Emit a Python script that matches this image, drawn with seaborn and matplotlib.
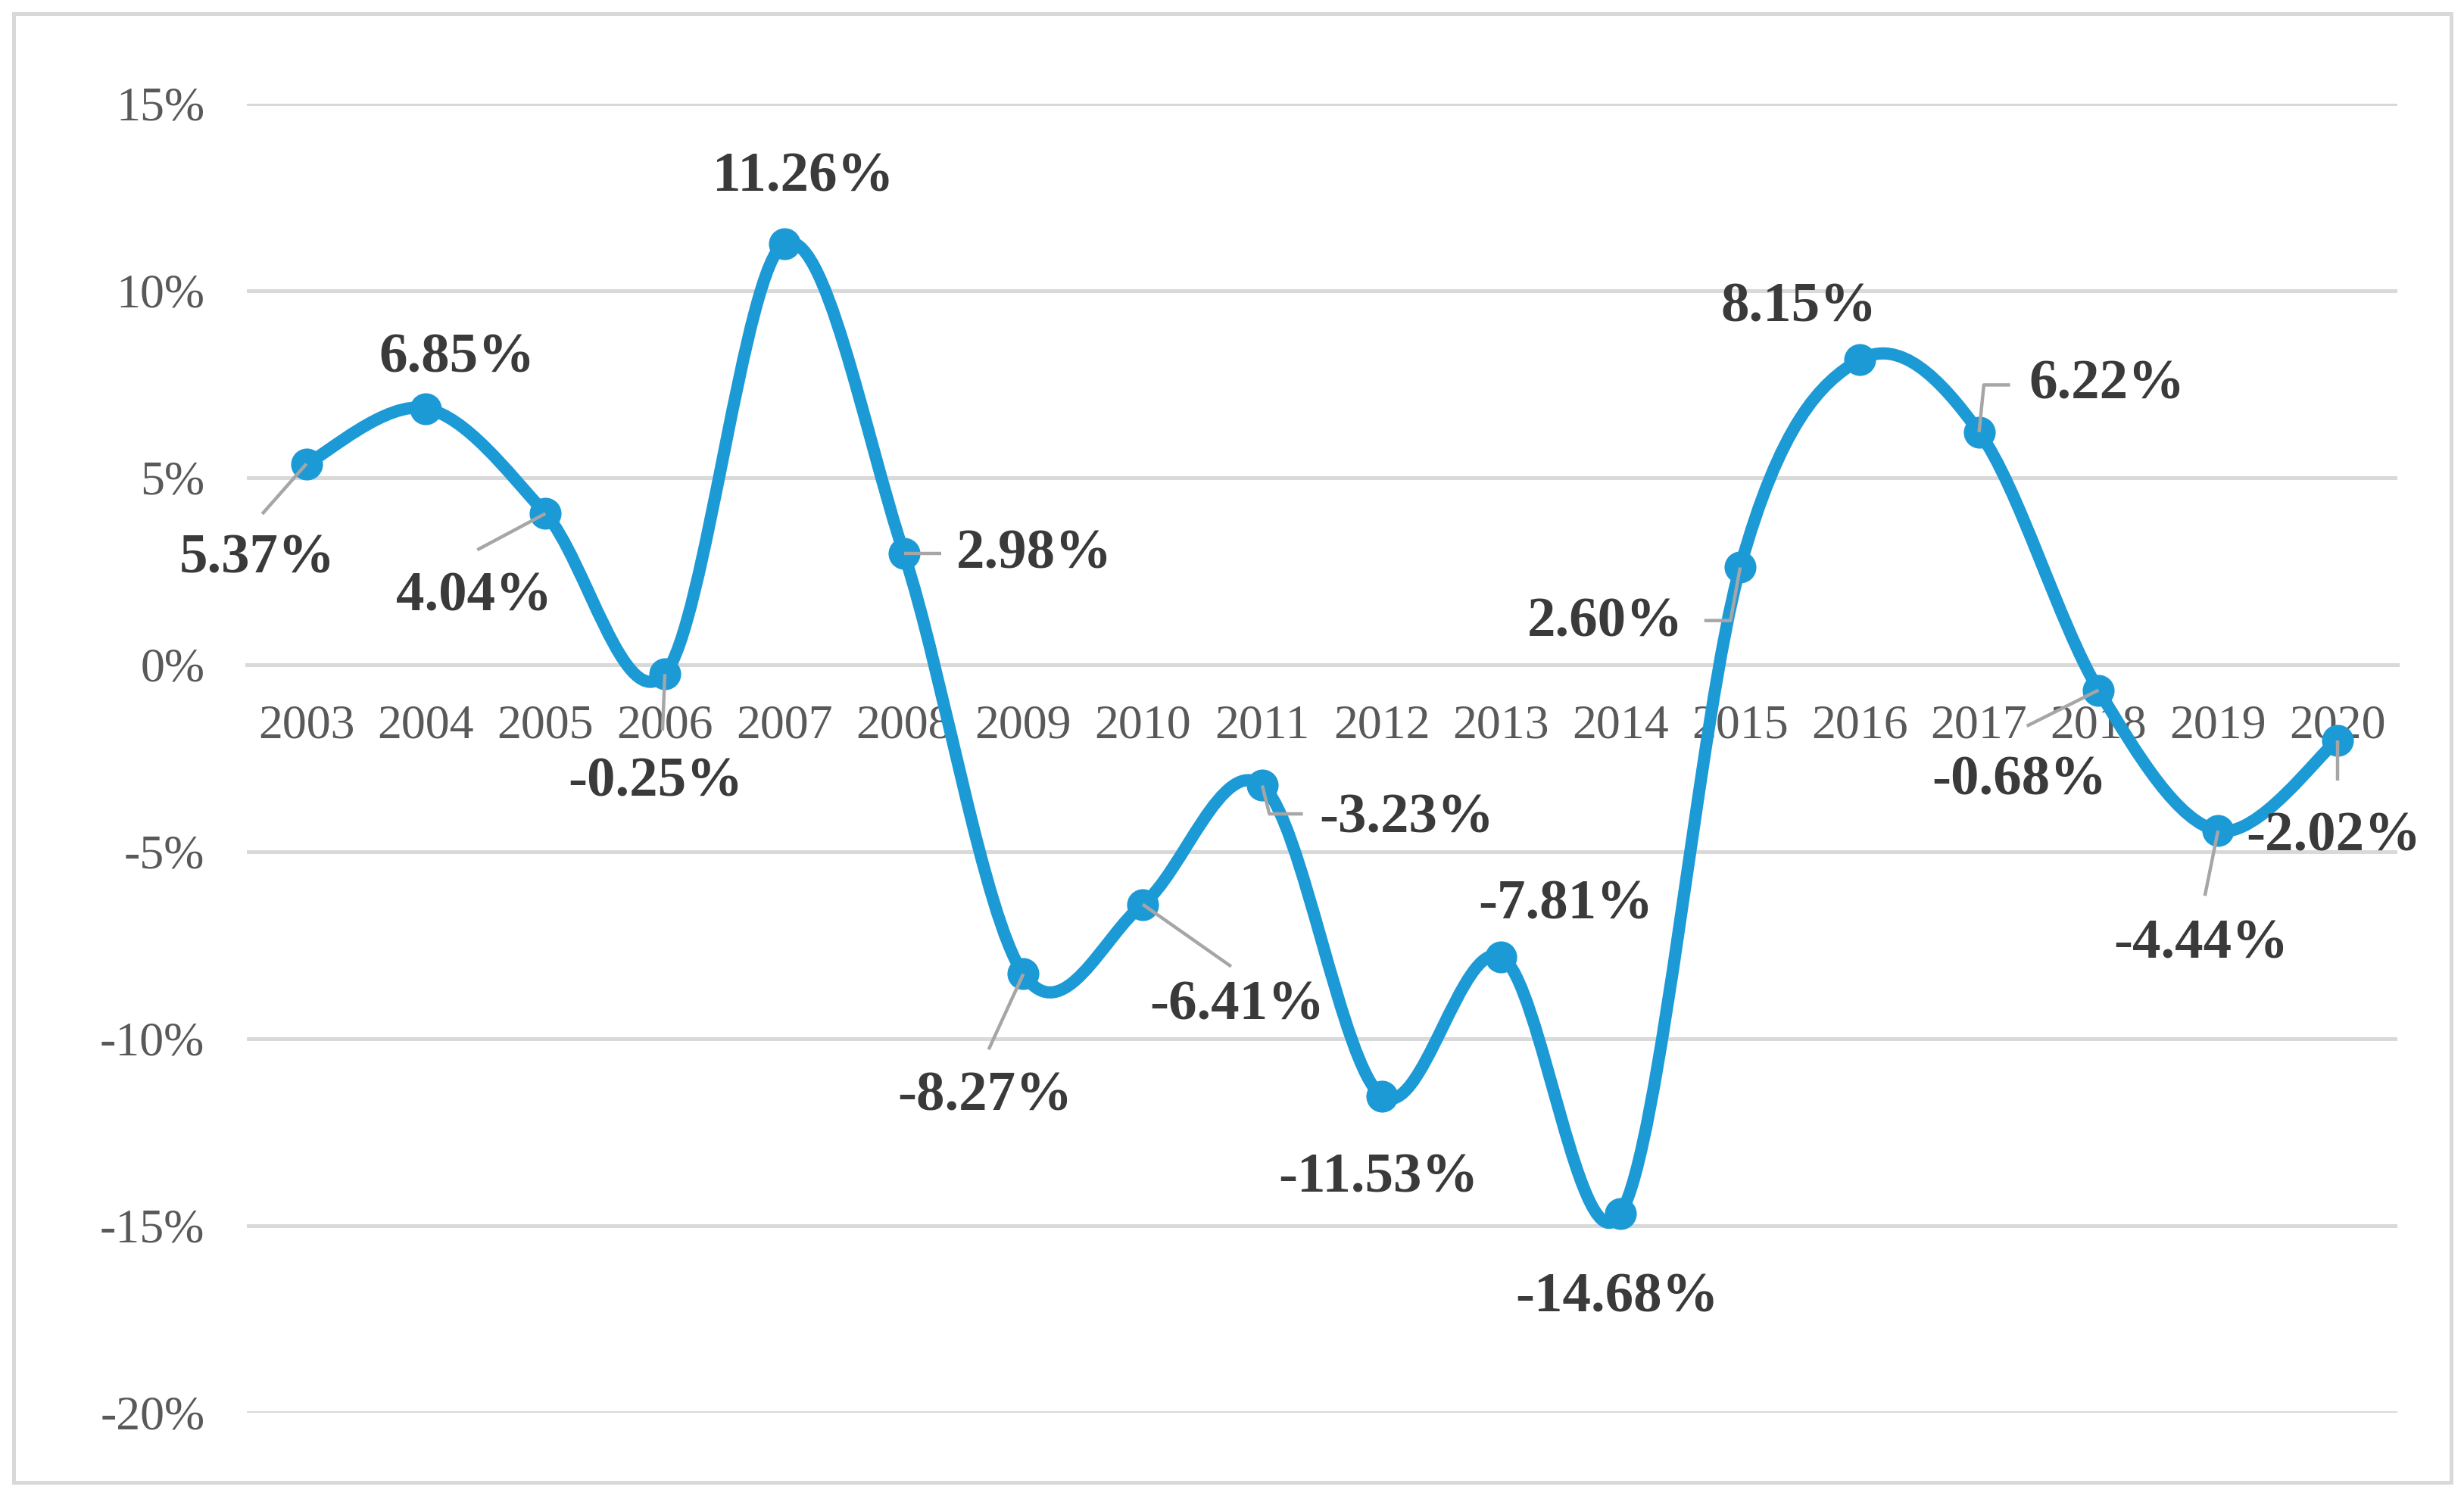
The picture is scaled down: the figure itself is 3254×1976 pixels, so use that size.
import numpy as np
import pandas as pd
import seaborn as sns
import matplotlib
matplotlib.use("Agg")
import matplotlib.pyplot as plt
from matplotlib.path import Path
from matplotlib.patches import PathPatch, Rectangle

# ---------------- data ----------------
years = ["2003", "2004", "2005", "2006", "2007", "2008", "2009", "2010", "2011",
         "2012", "2013", "2014", "2015", "2016", "2017", "2018", "2019", "2020"]
growth = [5.37, 6.85, 4.04, -0.25, 11.26, 2.98, -8.27, -6.41, -3.23,
          -11.53, -7.81, -14.68, 2.60, 8.15, 6.22, -0.68, -4.44, -2.02]
y_ticks = [15, 10, 5, 0, -5, -10, -15, -20]
y_tick_labels = ["15%", "10%", "5%", "0%", "-5%", "-10%", "-15%", "-20%"]

# label placement (offset from point, in category / percent units)
label_offsets = [(-0.41, -2.55), (0.26, 1.34), (-0.60, -2.23), (-0.08, -2.90),
                 (0.16, 1.77), (1.09, -0.04), (-0.32, -3.28), (0.79, -2.71),
                 (1.21, -0.89), (-0.03, -2.21), (0.54, 1.38), (-0.03, -2.25),
                 (-1.13, -1.47), (-0.51, 1.39), (1.07, 1.26), (-0.66, -2.42),
                 (-0.14, -3.04), (-0.03, -2.58)]
# leader lines: list of offsets of polyline vertices relative to the point
leaders = {0: [(0, 0), (-0.37, -1.34)],
           2: [(0, 0), (-0.57, -0.97)],
           3: [(0, 0), (-0.02, -1.51)],
           5: [(0, 0), (0.31, 0.0)],
           6: [(0, 0), (-0.29, -2.02)],
           7: [(0, 0), (0.74, -1.66)],
           8: [(0, 0), (0.06, -0.76), (0.34, -0.76)],
           12: [(0, 0), (-0.08, -1.42), (-0.30, -1.42)],
           14: [(0, 0), (0.04, 1.26), (0.26, 1.26)],
           15: [(0, 0), (-0.60, -0.96)],
           16: [(0, 0), (-0.11, -1.74)],
           17: [(0, 0), (0.0, -1.08)]}

df = pd.DataFrame({"idx": np.arange(len(years)), "year": years, "growth": growth})

sns.set_theme(style="white")
plt.rcParams["font.family"] = ["Liberation Serif", "DejaVu Serif"]

blue = "#1C9AD6"
grid_c = "#D9D9D9"
lead_c = "#A6A6A6"

fig = plt.figure(figsize=(16.275, 9.88), dpi=200)
ax = fig.add_axes([0.1001, 0.0557, 0.8725, 0.875])

# figure border
fig.patches.append(Rectangle((0.0055, 0.009), 0.989, 0.982, transform=fig.transFigure,
                             fill=False, edgecolor=grid_c, linewidth=1.8, zorder=0))

# smoothed line (Excel-style Bezier smoothing through the data points)
xs = df["idx"].to_numpy(dtype=float)
ys = df["growth"].to_numpy(dtype=float)
P = np.column_stack([xs, ys])
n = len(P)
verts = [tuple(P[0])]
codes = [Path.MOVETO]
for i in range(n - 1):
    p0 = P[i - 1] if i > 0 else P[i]
    p1 = P[i]
    p2 = P[i + 1]
    p3 = P[i + 2] if i + 2 < n else P[i + 1]
    c1 = p1 + (p2 - p0) / 6.0
    c2 = p2 - (p3 - p1) / 6.0
    verts += [tuple(c1), tuple(c2), tuple(p2)]
    codes += [Path.CURVE4] * 3
ax.add_patch(PathPatch(Path(verts, codes), facecolor="none", edgecolor=blue,
                       linewidth=5.8, capstyle="round", joinstyle="round", zorder=3))

sns.scatterplot(data=df, x="idx", y="growth", ax=ax, color=blue, s=230,
                edgecolor=blue, linewidth=0, zorder=4, legend=False)

# leader lines
for i, pts in leaders.items():
    lx = [xs[i] + dx for dx, dy in pts]
    ly = [ys[i] + dy for dx, dy in pts]
    ax.plot(lx, ly, color=lead_c, linewidth=1.6, zorder=5, solid_capstyle="butt")

# data labels
for i, (dx, dy) in enumerate(label_offsets):
    ax.text(xs[i] + dx, ys[i] + dy, f"{growth[i]:.2f}%", ha="center", va="center",
            fontsize=27, fontweight="bold", color="#3A3A3A", zorder=6)

ax.set_xlim(-0.5, len(years) - 0.5)
ax.set_ylim(-20, 15)
ax.set_yticks(y_ticks)
ax.set_yticklabels(y_tick_labels)
ax.set_xticks(range(len(years)))
ax.set_xticklabels(years)
ax.set_xlabel("")
ax.set_ylabel("")
ax.grid(axis="y", color=grid_c, linewidth=1.8)
ax.grid(axis="x", visible=False)
ax.set_axisbelow(True)
for s in ["top", "right", "left"]:
    ax.spines[s].set_visible(False)
ax.spines["bottom"].set_position(("data", 0))
ax.spines["bottom"].set_color(grid_c)
ax.spines["bottom"].set_linewidth(1.8)
ax.tick_params(axis="y", length=0, pad=20, labelsize=23, labelcolor="#595959")
ax.tick_params(axis="x", length=0, pad=19, labelsize=23, labelcolor="#595959")

fig.savefig("out.png", dpi=200)
